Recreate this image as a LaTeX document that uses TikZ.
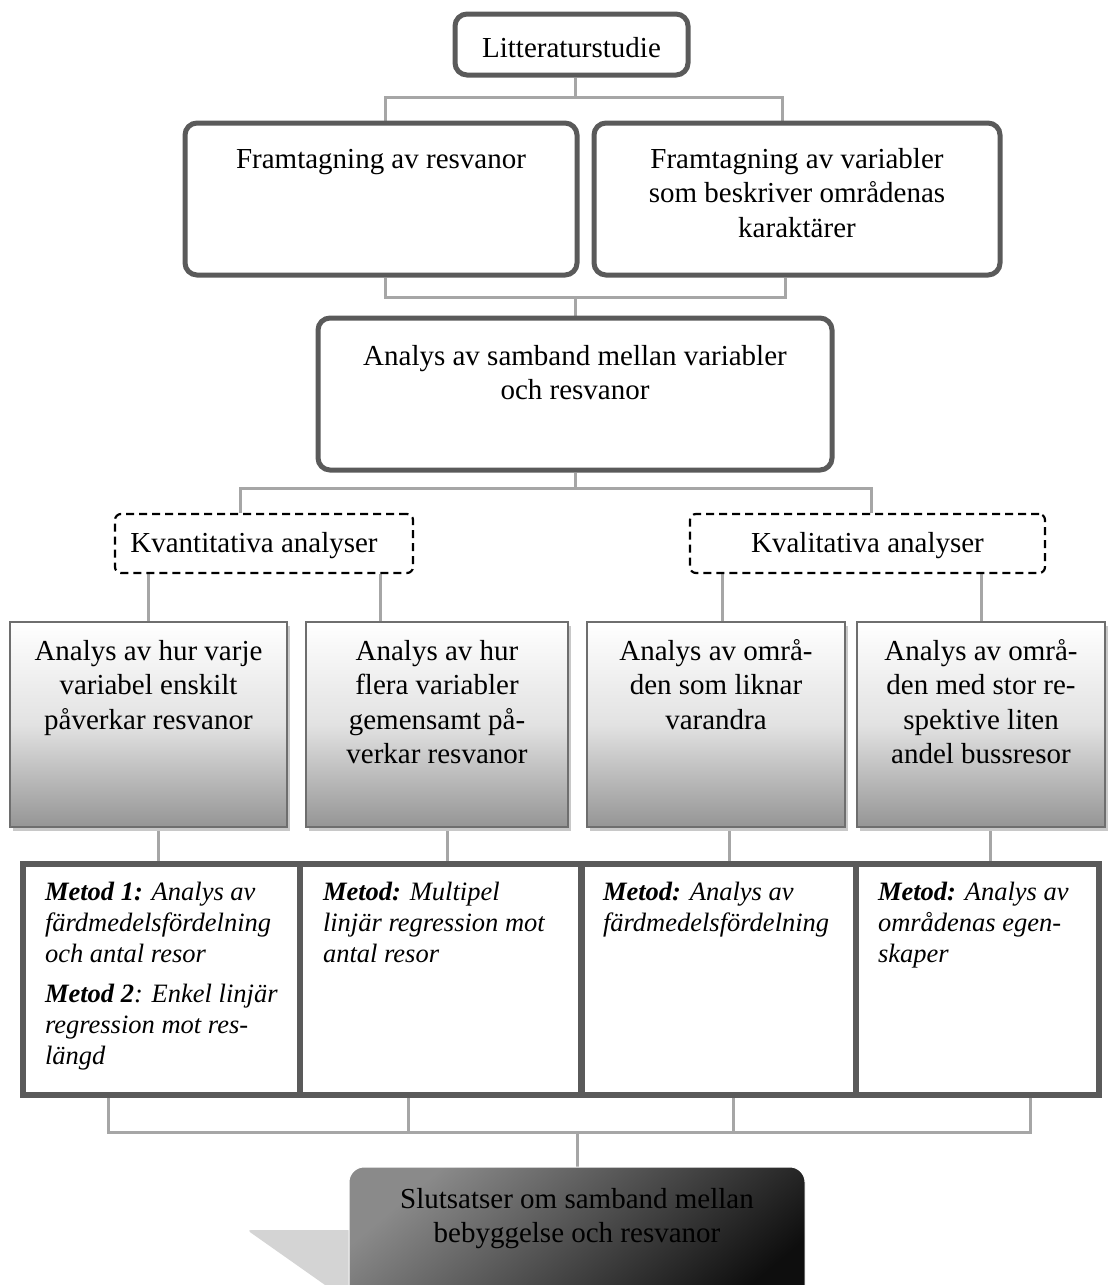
\documentclass[tikz,border=0pt]{standalone}
\usepackage{fontspec}
\setmainfont{Liberation Serif}
\usetikzlibrary{backgrounds}
\definecolor{bordergray}{HTML}{5A5A5A}
\definecolor{conngray}{HTML}{A6A6A6}
\definecolor{gboxborder}{HTML}{6E6E6E}
\definecolor{gboxbottom}{HTML}{959595}
\definecolor{gboxmid}{HTML}{E2E2E2}
\definecolor{shadowgray}{HTML}{C8C8C8}
\definecolor{fintop}{HTML}{8A8A8A}
\definecolor{finbot}{HTML}{0E0E0E}
\definecolor{finshadow}{HTML}{D4D4D4}
\newcommand\boxtext[4]{\parbox[c][#2][t]{#1}{\centering\rule{0pt}{#3}#4\par}}
\newcommand\methodtext[4]{\parbox[c][#2][t]{#1}{\parindent=0pt\leftskip=#3\relax\rightskip=0pt plus 1fil\rule{0pt}{36pt}#4\par}}
\begin{document}
\begin{tikzpicture}[x=1pt,y=-1pt,
  every node/.style={inner sep=0pt, font=\fontsize{29}{34.5}\selectfont},
  roundbox/.style={draw=bordergray, line width=5pt, rounded corners=12pt, fill=white},
  conn/.style={draw=conngray, line width=3pt},
  dashbox/.style={draw=black, line width=2.2pt, dash pattern=on 8pt off 5pt, rounded corners=6pt, fill=white},
  gradbox/.style={draw=gboxborder, line width=2.5pt, top color=white, bottom color=gboxbottom, middle color=gboxmid,
     preaction={fill=shadowgray, transform canvas={xshift=3pt,yshift=-4pt}}},
  methbox/.style={draw=bordergray, line width=6pt, fill=white, font=\fontsize{26.5}{31}\selectfont\itshape},
  finbox/.style={rounded corners=15pt, top color=fintop, bottom color=finbot, shading angle=40, draw=white, line width=1pt}]
\useasboundingbox (0,0) rectangle (1108,1285);
\clip (0,0) rectangle (1108,1285);

% top level
\node[roundbox] (lit) at (571.5,44.5) {\boxtext{233pt}{61pt}{43pt}{Litteraturstudie}};
\node[roundbox] (fr1) at (381,199) {\boxtext{392pt}{152pt}{45pt}{Framtagning av resvanor}};
\node[roundbox] (fr2) at (797,199) {\boxtext{406pt}{152pt}{45pt}{Framtagning av variabler\\som beskriver områdenas\\karaktärer}};
\node[roundbox] (sam) at (575,394) {\boxtext{514pt}{152pt}{47pt}{Analys av samband mellan variabler\\och resvanor}};

% dashed
\node[dashbox] (kv) at (264,543.5) {\boxtext{298pt}{59pt}{38pt}{\hspace*{-20pt}Kvantitativa analyser}};
\node[dashbox] (kl) at (867.5,543.5) {\boxtext{355pt}{59pt}{38pt}{Kvalitativa analyser}};

% gradient boxes
\node[gradbox] (g1) at (148.5,724.5) {\boxtext{277pt}{205pt}{38pt}{Analys av hur varje\\variabel enskilt\\påverkar resvanor}};
\node[gradbox] (g2) at (437,724.5) {\boxtext{262pt}{205pt}{38pt}{Analys av hur\\flera variabler\\gemensamt på-\\verkar resvanor}};
\node[gradbox] (g3) at (716,724.5) {\boxtext{258pt}{205pt}{38pt}{Analys av områ-\\den som liknar\\varandra}};
\node[gradbox] (g4) at (981,724.5) {\boxtext{248pt}{205pt}{38pt}{Analys av områ-\\den med stor re-\\spektive liten\\andel bussresor}};

% method boxes
\node[methbox] (m1) at (161.5,979.5) {\methodtext{277pt}{231pt}{22pt}{\textbf{Metod 1:} Analys av\\färdmedelsfördelning\\och antal resor\par\vspace{9pt}\textbf{Metod 2}: Enkel linjär\\regression mot res-\\längd}};
\node[methbox] (m2) at (440.5,979.5) {\methodtext{281pt}{231pt}{23pt}{\textbf{Metod:} Multipel\\linjär regression mot\\antal resor}};
\node[methbox] (m3) at (719,979.5) {\methodtext{274pt}{231pt}{21pt}{\textbf{Metod:} Analys av\\färdmedelsfördelning}};
\node[methbox] (m4) at (977.5,979.5) {\methodtext{243pt}{231pt}{22pt}{\textbf{Metod:} Analys av\\områdenas egen-\\skaper}};

% final box with shadow
\fill[finshadow, rounded corners=4pt] (247,1230) -- (352,1230) -- (352,1292) -- (335,1292) -- cycle;
\node[finbox] (fin) at (577,1242) {\boxtext{456pt}{150pt}{41pt}{Slutsatser om samband mellan\\bebyggelse och resvanor}};

% connectors
\begin{scope}[on background layer]
\coordinate (j1) at (575,97);
\draw[conn] ([xshift=3.5pt]lit.south) -- (j1);
\draw[conn] ([xshift=4pt]fr1.north) |- (j1);
\draw[conn] ([xshift=-15pt]fr2.north) |- (j1);
\coordinate (j2) at (575,297);
\draw[conn] ([xshift=4pt]fr1.south) |- (j2);
\draw[conn] ([xshift=-12pt]fr2.south) |- (j2);
\draw[conn] (j2) -- (sam.north);
\coordinate (j3) at (575,488);
\draw[conn] (sam.south) -- (j3);
\draw[conn] ([xshift=-24pt]kv.north) |- (j3);
\draw[conn] ([xshift=3.5pt]kl.north) |- (j3);
\draw[conn] (g1.north) -- (g1.north |- kv.south);
\draw[conn] ([xshift=-57pt]g2.north) -- ([xshift=-57pt]g2.north |- kv.south);
\draw[conn] ([xshift=6pt]g3.north) -- ([xshift=6pt]g3.north |- kl.south);
\draw[conn] (g4.north) -- (g4.north |- kl.south);
\draw[conn] ([xshift=-3.5pt]m1.north) -- ([xshift=-3.5pt]m1.north |- g1.south);
\draw[conn] ([xshift=6.5pt]m2.north) -- ([xshift=6.5pt]m2.north |- g2.south);
\draw[conn] ([xshift=10pt]m3.north) -- ([xshift=10pt]m3.north |- g3.south);
\draw[conn] ([xshift=12.5pt]m4.north) -- ([xshift=12.5pt]m4.north |- g4.south);
\coordinate (j4) at (577,1132);
\draw[conn] ([xshift=-53.5pt]m1.south) |- (j4);
\draw[conn] ([xshift=-32.5pt]m2.south) |- (j4);
\draw[conn] ([xshift=14pt]m3.south) |- (j4);
\draw[conn] ([xshift=52.5pt]m4.south) |- (j4);
\draw[conn] (j4) -- (fin.north);
\end{scope}
\end{tikzpicture}
\end{document}
